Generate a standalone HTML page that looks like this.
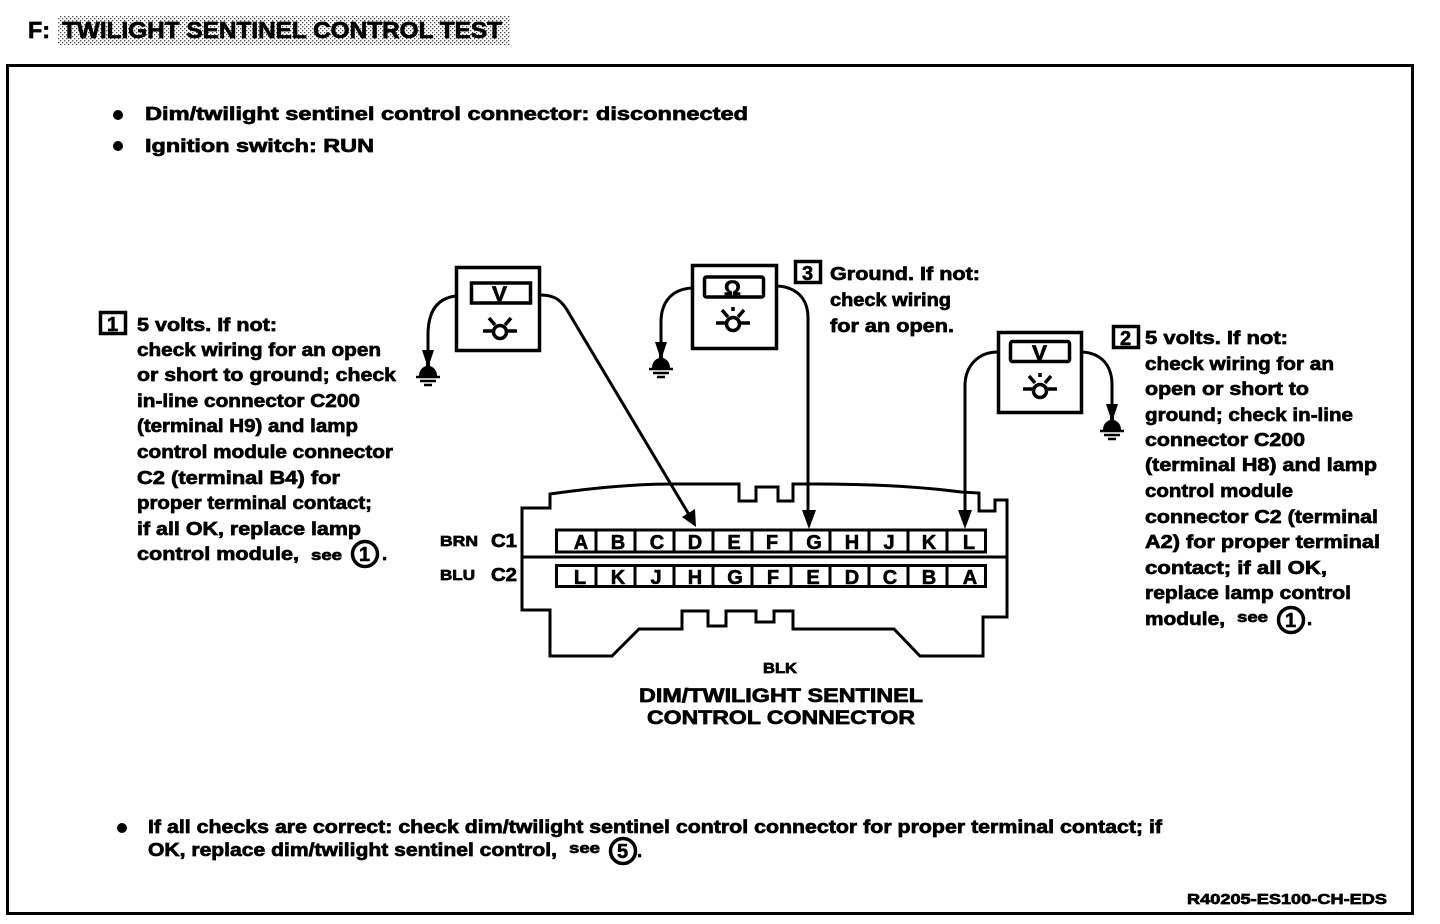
<!DOCTYPE html>
<html><head><meta charset="utf-8"><title>Twilight Sentinel Control Test</title>
<style>
html,body{margin:0;padding:0;background:#fff}
svg{display:block}
text{font-family:"Liberation Sans",sans-serif;font-weight:bold;fill:#000;stroke:#000;stroke-width:.7px;font-size:18.5px}
.s{font-size:15px}
.c{font-size:20px;stroke-width:.6px}
.w{fill:none;stroke:#000;stroke-width:3}
</style></head><body>
<svg width="1440" height="924" viewBox="0 0 1440 924" xmlns="http://www.w3.org/2000/svg">
<defs>
<pattern id="st" width="4" height="4" patternUnits="userSpaceOnUse"><rect width="1.3" height="1.3" fill="#000"/><rect x="2" y="2" width="1.3" height="1.3" fill="#000"/></pattern>
</defs>
<rect width="1440" height="924" fill="#fff"/>
<!-- title -->
<rect x="58" y="16" width="452" height="29" fill="url(#st)" opacity=".7"/>
<text x="28" y="38" style="font-size:23px" textLength="22" lengthAdjust="spacingAndGlyphs">F:</text>
<text x="62" y="38" style="font-size:23px" textLength="440" lengthAdjust="spacingAndGlyphs">TWILIGHT SENTINEL CONTROL TEST</text>
<!-- frame -->
<rect x="7.5" y="65.5" width="1405" height="848" fill="none" stroke="#000" stroke-width="3"/>
<!-- top bullets -->
<circle cx="118" cy="115" r="5"/><circle cx="118" cy="146" r="5"/>
<text x="145" y="120" textLength="603" lengthAdjust="spacingAndGlyphs">Dim/twilight sentinel control connector: disconnected</text>
<text x="145" y="152" textLength="229" lengthAdjust="spacingAndGlyphs">Ignition switch: RUN</text>
<!-- left note -->
<rect x="100.5" y="312.5" width="25" height="21" fill="none" stroke="#000" stroke-width="3.5"/>
<text x="107" y="331" class="c">1</text>
<text x="137" y="331" textLength="140" lengthAdjust="spacingAndGlyphs">5 volts. If not:</text>
<text x="137" y="356" textLength="244" lengthAdjust="spacingAndGlyphs">check wiring for an open</text>
<text x="137" y="381" textLength="259" lengthAdjust="spacingAndGlyphs">or short to ground; check</text>
<text x="137" y="407" textLength="223" lengthAdjust="spacingAndGlyphs">in-line connector C200</text>
<text x="137" y="432" textLength="221" lengthAdjust="spacingAndGlyphs">(terminal H9) and lamp</text>
<text x="137" y="458" textLength="256" lengthAdjust="spacingAndGlyphs">control module connector</text>
<text x="137" y="484" textLength="203" lengthAdjust="spacingAndGlyphs">C2 (terminal B4) for</text>
<text x="137" y="509" textLength="235" lengthAdjust="spacingAndGlyphs">proper terminal contact;</text>
<text x="137" y="535" textLength="224" lengthAdjust="spacingAndGlyphs">if all OK, replace lamp</text>
<text x="137" y="560" textLength="162" lengthAdjust="spacingAndGlyphs">control  module,</text>
<text x="311" y="560" class="s" textLength="31" lengthAdjust="spacingAndGlyphs">see</text>
<circle cx="365" cy="554" r="12.5" fill="none" stroke="#000" stroke-width="3.5"/>
<text x="359" y="561" class="c">1</text>
<text x="382" y="560">.</text>
<!-- middle note -->
<rect x="795.5" y="261.5" width="25" height="21" fill="none" stroke="#000" stroke-width="3.5"/>
<text x="802" y="280" class="c">3</text>
<text x="830" y="280" textLength="150" lengthAdjust="spacingAndGlyphs">Ground. If not:</text>
<text x="830" y="306" textLength="121" lengthAdjust="spacingAndGlyphs">check wiring</text>
<text x="830" y="332" textLength="124" lengthAdjust="spacingAndGlyphs">for an open.</text>
<!-- right note -->
<rect x="1113.5" y="326.5" width="25" height="21" fill="none" stroke="#000" stroke-width="3.5"/>
<text x="1120" y="345" class="c">2</text>
<text x="1145" y="344" textLength="143" lengthAdjust="spacingAndGlyphs">5 volts. If not:</text>
<text x="1145" y="370" textLength="189" lengthAdjust="spacingAndGlyphs">check wiring for an</text>
<text x="1145" y="395" textLength="164" lengthAdjust="spacingAndGlyphs">open or short to</text>
<text x="1145" y="421" textLength="208" lengthAdjust="spacingAndGlyphs">ground; check in-line</text>
<text x="1145" y="446" textLength="160" lengthAdjust="spacingAndGlyphs">connector C200</text>
<text x="1145" y="471" textLength="232" lengthAdjust="spacingAndGlyphs">(terminal H8) and lamp</text>
<text x="1145" y="497" textLength="148" lengthAdjust="spacingAndGlyphs">control module</text>
<text x="1145" y="523" textLength="233" lengthAdjust="spacingAndGlyphs">connector C2 (terminal</text>
<text x="1145" y="548" textLength="235" lengthAdjust="spacingAndGlyphs">A2) for proper terminal</text>
<text x="1145" y="574" textLength="182" lengthAdjust="spacingAndGlyphs">contact; if all OK,</text>
<text x="1145" y="599" textLength="206" lengthAdjust="spacingAndGlyphs">replace lamp control</text>
<text x="1145" y="625" textLength="80" lengthAdjust="spacingAndGlyphs">module,</text>
<text x="1237" y="622" class="s" textLength="31" lengthAdjust="spacingAndGlyphs">see</text>
<circle cx="1291" cy="620" r="12.5" fill="none" stroke="#000" stroke-width="3.5"/>
<text x="1285" y="627" class="c">1</text>
<text x="1307" y="625">.</text>
<!-- meters -->
<g fill="none" stroke="#000" stroke-width="3.5">
<rect x="456.5" y="267.5" width="83" height="83"/><rect x="471.5" y="283" width="59" height="20"/>
<rect x="692.5" y="265.5" width="84" height="83"/><rect x="704.5" y="277" width="59" height="20" rx="2"/>
<rect x="998.5" y="332.5" width="83" height="80"/><rect x="1010.5" y="341.5" width="59" height="20" rx="2"/>
<g><circle cx="500" cy="332" r="6.5"/><path d="M483 331h10M507 331h10M489 318l6 7M511 318l-6 7"/></g>
<g><circle cx="733" cy="324" r="6.5"/><path d="M716 323h10M740 323h10M722 310l6 7M744 310l-6 7M733 307v4"/></g>
<g><circle cx="1040" cy="391" r="6.5"/><path d="M1023 389h10M1047 389h10M1029 376l6 7M1051 376l-6 7M1040 373v4"/></g>
</g>
<text x="492" y="301" style="font-size:21px" textLength="15" lengthAdjust="spacingAndGlyphs">V</text>
<text x="724" y="295" style="font-size:21px">Ω</text>
<text x="1032" y="360" style="font-size:21px" textLength="15" lengthAdjust="spacingAndGlyphs">V</text>
<!-- wires -->
<path class="w" d="M456 296C438 298 428 310 428 335V352"/>
<path class="w" d="M540 295C555 295 562 300 570 315L691 518"/>
<path class="w" d="M692 288C672 289 661 302 661 322V342"/>
<path class="w" d="M777 286C796 287 808 298 808 318V515"/>
<path class="w" d="M998 352C978 352 965 366 965 386V515"/>
<path class="w" d="M1082 352C1100 353 1112 364 1112 385V405"/>
<!-- arrowheads -->
<path d="M696 527L682 517L695 509Z"/>
<path d="M809 529L802 510H816Z"/>
<path d="M965 529L958 510H972Z"/>
<!-- grounds -->
<g><path d="M422 350H434L430 362V366C436 368 437 373 437 376H419C419 373 420 368 426 366V362Z"/><path d="M416 377H440M420 381H436M424 385H432" stroke="#000" stroke-width="2.5"/></g>
<g transform="translate(233,-8)"><path d="M422 350H434L430 362V366C436 368 437 373 437 376H419C419 373 420 368 426 366V362Z"/><path d="M416 377H440M420 381H436M424 385H432" stroke="#000" stroke-width="2.5"/></g>
<g transform="translate(684,54)"><path d="M422 350H434L430 362V366C436 368 437 373 437 376H419C419 373 420 368 426 366V362Z"/><path d="M416 377H440M420 381H436M424 385H432" stroke="#000" stroke-width="2.5"/></g>
<!-- connector -->
<path class="w" d="M522 508H550V494Q620 484 673 484H739V501H756V487H778V501H793V484H815Q900 484 961 492L979 493V511H995V500H1007V617H983V656H920L894 629H793V611H774V622H756V611H726V626H708V611H682V629H639L612 656H550V610H522Z"/>
<path class="w" d="M522 557H1007"/>
<rect x="556.5" y="530" width="429" height="22" fill="none" stroke="#000" stroke-width="3"/>
<rect x="556.5" y="565.5" width="429" height="21" fill="none" stroke="#000" stroke-width="3"/>
<path class="w" d="M596 530v22M635 530v22M674 530v22M713 530v22M752 530v22M791 530v22M830 530v22M869 530v22M908 530v22M947 530v22M596 565v22M635 565v22M674 565v22M713 565v22M752 565v22M791 565v22M830 565v22M869 565v22M908 565v22M947 565v22"/>
<g>
<text x="581" y="549" text-anchor="middle" class="c">A</text><text x="618" y="549" text-anchor="middle" class="c">B</text><text x="657" y="549" text-anchor="middle" class="c">C</text><text x="695" y="549" text-anchor="middle" class="c">D</text><text x="734" y="549" text-anchor="middle" class="c">E</text><text x="772" y="549" text-anchor="middle" class="c">F</text><text x="814" y="549" text-anchor="middle" class="c">G</text><text x="852" y="549" text-anchor="middle" class="c">H</text><text x="889" y="549" text-anchor="middle" class="c">J</text><text x="929" y="549" text-anchor="middle" class="c">K</text><text x="969" y="549" text-anchor="middle" class="c">L</text>
<text x="580" y="584" text-anchor="middle" class="c">L</text><text x="618" y="584" text-anchor="middle" class="c">K</text><text x="656" y="584" text-anchor="middle" class="c">J</text><text x="695" y="584" text-anchor="middle" class="c">H</text><text x="735" y="584" text-anchor="middle" class="c">G</text><text x="773" y="584" text-anchor="middle" class="c">F</text><text x="813" y="584" text-anchor="middle" class="c">E</text><text x="852" y="584" text-anchor="middle" class="c">D</text><text x="890" y="584" text-anchor="middle" class="c">C</text><text x="929" y="584" text-anchor="middle" class="c">B</text><text x="970" y="584" text-anchor="middle" class="c">A</text>
</g>
<text x="440" y="546" class="s" textLength="38" lengthAdjust="spacingAndGlyphs">BRN</text>
<text x="491" y="547" style="font-size:18px" textLength="26" lengthAdjust="spacingAndGlyphs">C1</text>
<text x="440" y="580" class="s" textLength="35" lengthAdjust="spacingAndGlyphs">BLU</text>
<text x="491" y="581" style="font-size:18px" textLength="26" lengthAdjust="spacingAndGlyphs">C2</text>
<text x="763" y="673" class="s" textLength="34" lengthAdjust="spacingAndGlyphs">BLK</text>
<text x="639" y="702" style="font-size:19px" textLength="284" lengthAdjust="spacingAndGlyphs">DIM/TWILIGHT SENTINEL</text>
<text x="647" y="724" style="font-size:19px" textLength="268" lengthAdjust="spacingAndGlyphs">CONTROL CONNECTOR</text>
<!-- bottom -->
<circle cx="122" cy="828" r="5"/>
<text x="148" y="833" textLength="1014" lengthAdjust="spacingAndGlyphs">If all checks are correct: check dim/twilight sentinel control connector for proper terminal contact; if</text>
<text x="148" y="856" textLength="409" lengthAdjust="spacingAndGlyphs">OK, replace dim/twilight sentinel control,</text>
<text x="569" y="853" class="s" textLength="31" lengthAdjust="spacingAndGlyphs">see</text>
<circle cx="623" cy="851" r="12.5" fill="none" stroke="#000" stroke-width="3.5"/>
<text x="617" y="858" class="c">5</text>
<text x="637" y="857">.</text>
<text x="1187" y="904" class="s" textLength="200" lengthAdjust="spacingAndGlyphs">R40205-ES100-CH-EDS</text>
</svg>
</body></html>
